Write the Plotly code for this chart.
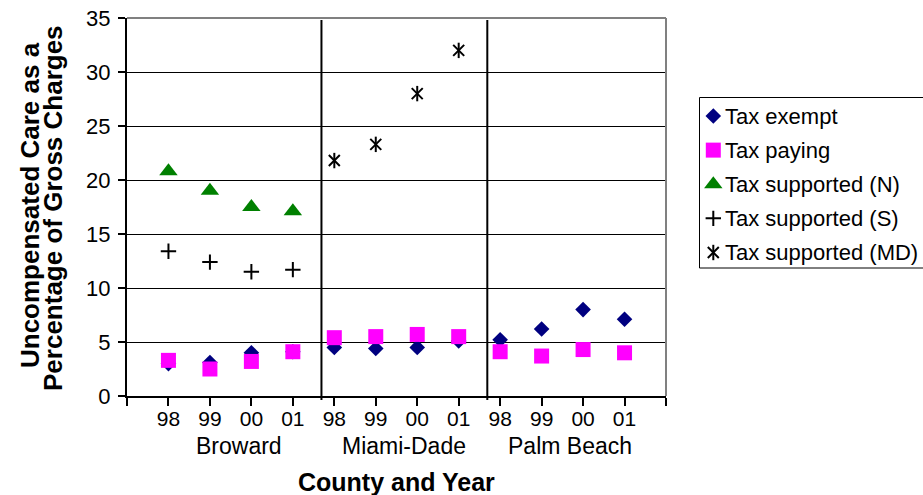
import plotly.graph_objects as go

# ---- data -------------------------------------------------------------
years = ["98", "99", "00", "01"]
counties = ["Broward", "Miami-Dade", "Palm Beach"]

series_names = [
    "Tax exempt",
    "Tax paying",
    "Tax supported (N)",
    "Tax supported (S)",
    "Tax supported (MD)",
]

# one value per county/year, Broward 98..01, Miami-Dade 98..01, Palm Beach 98..01
tax_exempt = [3.0, 3.1, 4.0, 4.1, 4.5, 4.4, 4.5, 5.1, 5.2, 6.2, 8.0, 7.1]
tax_paying = [3.3, 2.5, 3.2, 4.1, 5.4, 5.5, 5.7, 5.5, 4.1, 3.7, 4.3, 4.0]
tax_supported_n = [20.8, 19.0, 17.5, 17.1, None, None, None, None, None, None, None, None]
tax_supported_s = [13.4, 12.4, 11.5, 11.7, None, None, None, None, None, None, None, None]
tax_supported_md = [None, None, None, None, 21.8, 23.3, 28.0, 32.0, None, None, None, None]

y_ticks = [0, 5, 10, 15, 20, 25, 30, 35]

# ---- layout geometry ---------------------------------------------------
FONT = "Liberation Sans, Arial, sans-serif"
W, H = 923, 495
M_L, M_R, M_T, M_B = 127, 0, 18, 99
PAPER_W = W - M_L - M_R
PAPER_H = H - M_T - M_B
PLOT_W = 539
X_END = PLOT_W / PAPER_W

n_cat = len(counties) * len(years)
x_pos = list(range(1, n_cat + 1))
x_max = n_cat + 1
GROUP_SHIFT = 0.19  # group separators / county labels sit a little right of mid-gap


def px_x(px):
    return (px - M_L) / PAPER_W


def px_y(py):
    return (M_T + PAPER_H - py) / PAPER_H


def data_x_to_paper(xd):
    return xd / x_max * X_END


styles = {
    "Tax exempt": [dict(symbol="diamond", size=12, color="#000080", line=dict(width=0))],
    "Tax paying": [dict(symbol="square", size=15, color="#FF00FF", line=dict(width=0))],
    "Tax supported (N)": [dict(symbol="triangle-up", size=16, color="#008000", line=dict(width=0))],
    "Tax supported (S)": [dict(symbol="cross-thin-open", size=11, color="black",
                               line=dict(width=2, color="black"))],
    "Tax supported (MD)": [
        dict(symbol="x-thin-open", size=11, color="black", line=dict(width=2, color="black")),
        dict(symbol="line-ns-open", size=11, color="black", line=dict(width=2, color="black")),
    ],
}
values = {
    "Tax exempt": tax_exempt,
    "Tax paying": tax_paying,
    "Tax supported (N)": tax_supported_n,
    "Tax supported (S)": tax_supported_s,
    "Tax supported (MD)": tax_supported_md,
}

fig = go.Figure()

# data points
for name in series_names:
    for mk in styles[name]:
        fig.add_trace(go.Scatter(
            x=x_pos, y=values[name], mode="markers", name=name,
            marker=mk, showlegend=False, cliponaxis=False,
            xaxis="x", yaxis="y", hoverinfo="x+y+name",
        ))

# legend swatches on their own hidden axes
for i, name in enumerate(series_names):
    for mk in styles[name]:
        fig.add_trace(go.Scatter(
            x=[0], y=[i], mode="markers", marker=mk, showlegend=False,
            cliponaxis=False, xaxis="x2", yaxis="y2", hoverinfo="skip",
        ))

annotations = []
for i, name in enumerate(series_names):
    annotations.append(dict(
        xref="x2", yref="y2", x=0, y=i, xshift=10, xanchor="left", yanchor="middle",
        text=name, showarrow=False, font=dict(family=FONT, size=22, color="black"),
    ))

# county labels under the year ticks
for g, county in enumerate(counties):
    centre = g * len(years) + (len(years) + 1) / 2 + GROUP_SHIFT
    annotations.append(dict(
        xref="x", yref="paper", x=centre, y=px_y(446), xanchor="center", yanchor="middle",
        text=county, showarrow=False, font=dict(family=FONT, size=23, color="black"),
    ))

# axis titles
annotations.append(dict(
    xref="paper", yref="paper", x=X_END / 2, y=px_y(482), xanchor="center", yanchor="middle",
    text="<b>County and Year</b>", showarrow=False,
    font=dict(family=FONT, size=25, color="black"),
))
annotations.append(dict(
    xref="paper", yref="paper", x=px_x(30), y=px_y(205), xanchor="center", yanchor="middle",
    text="<b>Uncompensated Care as a</b>", textangle=-90, showarrow=False,
    font=dict(family=FONT, size=26, color="black"),
))
annotations.append(dict(
    xref="paper", yref="paper", x=px_x(53), y=px_y(208), xanchor="center", yanchor="middle",
    text="<b>Percentage of Gross Charges</b>", textangle=-90, showarrow=False,
    font=dict(family=FONT, size=26, color="black"),
))

shapes = [
    # grey frame on the top and right of the plot area
    dict(type="line", xref="paper", yref="paper", x0=0, x1=X_END, y0=1, y1=1,
         line=dict(color="#808080", width=2)),
    dict(type="line", xref="paper", yref="paper", x0=X_END, x1=X_END, y0=0, y1=1,
         line=dict(color="#808080", width=2)),
    # legend frame
    dict(type="rect", xref="paper", yref="paper", x0=px_x(699.5), x1=1.05,
         y0=px_y(268), y1=px_y(97.5), line=dict(color="black", width=1), fillcolor="rgba(0,0,0,0)"),
]
# vertical separators between the counties
for g in range(1, len(counties)):
    xd = g * len(years) + 0.5 + GROUP_SHIFT
    xp = data_x_to_paper(xd)
    shapes.append(dict(type="line", xref="paper", yref="paper", x0=xp, x1=xp,
                       y0=px_y(400), y1=px_y(20), line=dict(color="black", width=2)))

fig.update_layout(
    width=W, height=H,
    margin=dict(l=M_L, r=M_R, t=M_T, b=M_B, pad=0),
    paper_bgcolor="white", plot_bgcolor="white",
    font=dict(family=FONT, color="black"),
    showlegend=False,
    xaxis=dict(
        domain=[0, X_END], range=[0, x_max], anchor="y",
        tickmode="array", tickvals=list(range(0, x_max + 1)),
        ticktext=[""] + years * len(counties) + [""],
        ticks="outside", ticklen=8, tickwidth=1.5, tickcolor="black",
        ticklabelstandoff=-5,
        showline=True, linecolor="black", linewidth=2,
        showgrid=False, zeroline=False,
        tickfont=dict(family=FONT, size=21, color="black"),
        fixedrange=True,
    ),
    yaxis=dict(
        domain=[0, 1], range=[0, 35], anchor="x",
        tickmode="array", tickvals=y_ticks,
        ticks="outside", ticklen=7, tickwidth=1.5, tickcolor="black",
        ticklabelstandoff=3,
        showline=True, linecolor="black", linewidth=2,
        showgrid=True, gridcolor="black", gridwidth=1,
        zeroline=False,
        tickfont=dict(family=FONT, size=22, color="black"),
        fixedrange=True,
    ),
    xaxis2=dict(domain=[px_x(713.3), 1], range=[0, 1], anchor="y2", visible=False, fixedrange=True),
    yaxis2=dict(domain=[px_y(252.5), px_y(116)], range=[len(series_names) - 1, 0], anchor="x2",
                visible=False, fixedrange=True),
    annotations=annotations,
    shapes=shapes,
)

fig.write_html("out.html")
